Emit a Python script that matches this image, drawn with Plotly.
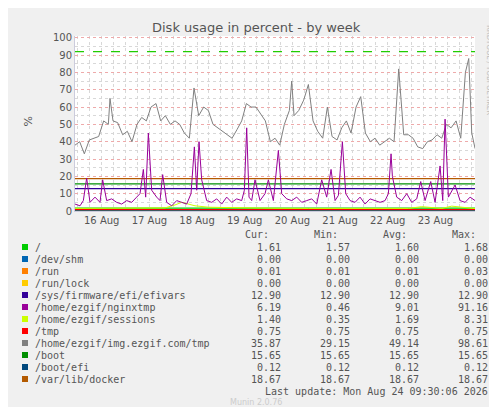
import plotly.graph_objects as go

# x positions read in zoom pixels, converted to days since 16 Aug 00:00
img_x = [200,214,228,243,257,271,286,300,305,314,328,343,357,371,386,400,414,428,443,457,471,486,500,514,528,543,557,571,586,600,614,628,643,657,671,686,700,714,728,743,757,771,786,800,814,828,843,850,857,871,886,900,914,928,943,957,971,986,1000,1014,1028,1043,1057,1071,1086,1100,1114,1128,1143,1157,1171,1186,1200,1214,1228,1243,1257,1271,1286,1300,1314,1328,1343,1357,1371,1381,1390,1400]
img_v = [38,40,33,41,42,43,52,50,65,52,51,44,46,40,50,54,52,60,62,52,55,50,52,50,45,42,71,55,60,58,50,48,46,44,42,47,52,62,60,60,56,52,40,42,38,50,58,75,55,58,64,73,52,46,42,60,43,41,48,52,45,60,66,45,40,42,38,40,42,40,82,44,44,42,37,36,40,41,44,42,50,48,52,42,80,88,45,36]

ngx_x = [200,215,225,235,245,260,275,283,295,310,325,340,355,370,385,395,405,412,420,430,445,455,463,475,490,505,520,535,548,558,565,572,580,595,610,625,640,655,670,685,700,708,715,722,730,740,755,770,780,795,810,820,835,850,865,880,895,910,925,940,955,968,980,990,1002,1012,1025,1040,1055,1070,1085,1100,1115,1130,1140,1148,1152,1165,1180,1195,1210,1225,1237,1250,1267,1280,1295,1303,1310,1320,1340,1355,1370,1385,1400]
ngx_v = [4,3,6,19,5,8,5,18,6,7,5,4,6,5,8,10,24,8,45,12,8,6,21,5,3,6,5,4,10,37,12,40,18,6,5,7,4,8,5,7,6,12,48,8,6,18,6,10,18,6,35,10,7,6,8,5,6,7,4,18,8,24,6,9,40,10,6,5,8,4,7,6,5,6,10,33,20,8,6,10,5,7,17,6,17,5,26,6,53,8,15,6,5,8,6]

ses_x = [200,300,400,470,500,520,560,600,650,700,800,900,1000,1100,1200,1240,1300,1330,1400]
ses_v = [1.5,1.6,1.4,1.8,3.5,5.0,3.0,2.2,2.0,1.8,1.6,1.5,1.5,1.4,1.5,2.5,1.5,2.8,1.4]

flat_names = ["/", "/dev/shm", "/run", "/run/lock", "/sys/firmware/efi/efivars", "/tmp", "/boot", "/boot/efi", "/var/lib/docker"]
flat_vals = [1.61, 0.00, 0.01, 0.00, 12.90, 0.75, 15.65, 0.12, 18.67]
flat_cols = ["#00cc00", "#0066b3", "#ff8000", "#ffcc00", "#330099", "#ff0000", "#008f00", "#00487d", "#b35a00"]

legend_names = ["/", "/dev/shm", "/run", "/run/lock", "/sys/firmware/efi/efivars", "/home/ezgif/nginxtmp",
                "/home/ezgif/sessions", "/tmp", "/home/ezgif/img.ezgif.com/tmp", "/boot", "/boot/efi", "/var/lib/docker"]
legend_cols = ["#00cc00", "#0066b3", "#ff8000", "#ffcc00", "#330099", "#990099", "#ccff00", "#ff0000", "#808080", "#008f00", "#00487d", "#b35a00"]
cur = ["1.61","0.00","0.01","0.00","12.90","6.19","1.40","0.75","35.87","15.65","0.12","18.67"]
mins = ["1.57","0.00","0.01","0.00","12.90","0.46","0.35","0.75","29.15","15.65","0.12","18.67"]
avg = ["1.60","0.00","0.01","0.00","12.90","9.01","1.69","0.75","49.14","15.65","0.12","18.67"]
mx = ["1.68","0.00","0.03","0.00","12.90","91.16","8.31","0.75","98.61","15.65","0.12","18.67"]
day_labels = ["16 Aug", "17 Aug", "18 Aug", "19 Aug", "20 Aug", "21 Aug", "22 Aug", "23 Aug"]

def to_day(z):
    return (z - 200) / 143.0 - 0.06

X0, X1 = -0.06, 8.33
fig = go.Figure()
for n, v, c in zip(flat_names, flat_vals, flat_cols):
    fig.add_trace(go.Scatter(x=[X0, X1], y=[v, v], mode="lines", line=dict(color=c, width=1.3)))
fig.add_trace(go.Scatter(x=[X0, X1], y=[92, 92], mode="lines", line=dict(color="#22cc00", width=1.2, dash="dash")))
fig.add_trace(go.Scatter(x=[to_day(z) for z in ses_x], y=ses_v, mode="lines", line=dict(color="#ccff00", width=1)))
fig.add_trace(go.Scatter(x=[to_day(z) for z in img_x], y=img_v, mode="lines", line=dict(color="#808080", width=1)))
fig.add_trace(go.Scatter(x=[to_day(z) for z in ngx_x], y=ngx_v, mode="lines", line=dict(color="#990099", width=1)))

L, R, T, B = 67, 467, 28, 203
def px(x): return (x - L) / (R - L)
def py(y): return (B - y) / (B - T)

ann = []
mono = dict(family="DejaVu Sans Mono", size=10, color="#555")
for name, x in zip(["Cur:", "Min:", "Avg:", "Max:"], [263, 332, 401, 470]):
    ann.append(dict(x=px(x), y=py(226), text=name, xanchor="right", font=mono))
shapes = []
for i, n in enumerate(legend_names):
    yy = 239 + i * 12
    ann.append(dict(x=px(25), y=py(yy), text=n, xanchor="left", font=mono))
    for vals, x in zip([cur, mins, avg, mx], [275, 344, 413, 482]):
        ann.append(dict(x=px(x), y=py(yy), text=vals[i], xanchor="right", font=mono))
    shapes.append(dict(type="rect", xref="paper", yref="paper", x0=px(14), x1=px(20), y0=py(yy + 3), y1=py(yy - 3),
                       fillcolor=legend_cols[i], line_width=0))
ann.append(dict(x=px(482), y=py(383), text="Last update: Mon Aug 24 09:30:06 2026", xanchor="right", font=mono))
ann.append(dict(x=px(248), y=py(395), text="Munin 2.0.76", xanchor="center", font=dict(family="DejaVu Sans", size=8, color="#ccc")))
ann.append(dict(x=px(248), y=py(19), text="Disk usage in percent - by week", xanchor="center", font=dict(family="DejaVu Sans", size=13, color="#555")))
ann.append(dict(x=px(11), y=py(113), text="%", textangle=-90, font=dict(family="DejaVu Sans", size=11, color="#555")))
ann.append(dict(x=px(487), y=py(62), text="RRDTOOL / TOBI OETIKER", textangle=90, font=dict(family="DejaVu Sans", size=7, color="#bbb")))
for a in ann:
    a.update(xref="paper", yref="paper", showarrow=False, yanchor="middle")

fig.update_layout(
    width=497, height=407, margin=dict(l=L, r=497 - R, t=T, b=407 - B),
    paper_bgcolor="#f0f0f0", plot_bgcolor="white", showlegend=False,
    annotations=ann, shapes=shapes,
    xaxis=dict(range=[X0, X1], tickvals=[i + 0.5 for i in range(8)], ticktext=day_labels, showgrid=False,
               tickfont=dict(family="DejaVu Sans", size=10, color="#555"), zeroline=False, ticks="",
               minor=dict(dtick=0.25, tick0=0, showgrid=True, gridcolor="#d8d8d8", griddash="dot", gridwidth=1),
               showline=True, linecolor="#ccd", mirror=False),
    yaxis=dict(range=[0, 101], dtick=10, gridcolor="#eeaaaa", griddash="dot", zeroline=False,
               tickfont=dict(family="DejaVu Sans", size=10, color="#555"),
               minor=dict(dtick=5, showgrid=True, gridcolor="#d8d8d8", griddash="dot"),
               showline=True, linecolor="#ccd"),
)
fig.write_html("out.html")
